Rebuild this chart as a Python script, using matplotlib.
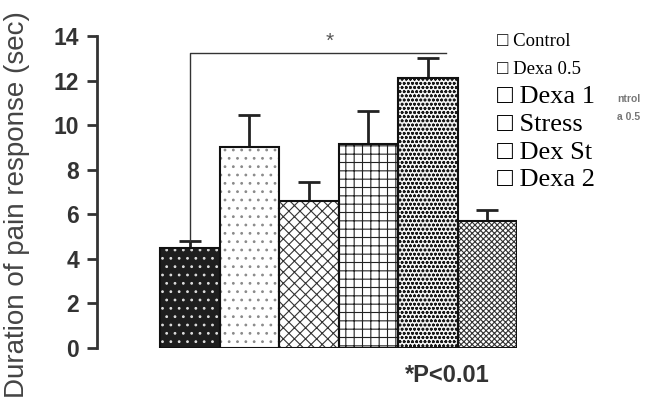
import matplotlib.pyplot as plt
import numpy as np

groups = ["Control", "Dexa 0.5", "Dexa 1", "Stress", "Dex St", "Dexa 2"]
means = [4.5, 9.0, 6.6, 9.15, 12.1, 5.7]
upper_err = [0.3, 1.45, 0.85, 1.5, 0.9, 0.5]
yticks = [0, 2, 4, 6, 8, 10, 12, 14]
legend_sizes = [13.5, 13.5, 19, 19, 19, 19]

hatches = ["..", "..", "xxx", "++", "oooo", "xxxxxx"]
faces = ["#1e1e1e", "white", "white", "white", "#f4f4f4", "white"]
hatch_colors = ["#dddddd", "#8a8a8a", "#333333", "#222222", "#1a1a1a", "#333333"]

plt.rcParams["hatch.linewidth"] = 0.8
fig = plt.figure(figsize=(6.55, 4.05), dpi=100)
ax = fig.add_axes([97 / 655, 57 / 405, 420 / 655, 312 / 405])

x = np.arange(len(groups))
for i in range(len(groups)):
    ax.bar(x[i], means[i], width=1.0, color=faces[i], hatch=hatches[i],
           edgecolor=hatch_colors[i], linewidth=0, zorder=2)
    ax.bar(x[i], means[i], width=1.0, fill=False, edgecolor="#111111",
           linewidth=1.5, zorder=3)

ax.errorbar(x, means, yerr=[np.zeros(len(means)), upper_err], fmt="none",
            ecolor="#222222", elinewidth=2, capsize=8, capthick=2, zorder=1)

# significance bracket from control to the Dex St group
top = 13.25
ax.plot([x[0], x[0], x[4] + 0.3], [means[0] + upper_err[0], top, top],
        color="#333333", lw=1, zorder=1)
ax.text((x[0] + x[4]) / 2 + 0.35, top + 0.1, "*", fontsize=15, color="#555555",
        ha="center", va="bottom", family="Liberation Sans")

ax.set_xlim(-1.56, 5.5)
ax.set_ylim(0, 14)
ax.set_yticks(yticks)
ax.set_yticklabels([str(t) for t in yticks], fontsize=16.5, fontweight="bold",
                   color="#333333", family="Liberation Sans")
ax.tick_params(axis="y", length=7, width=2, color="#333333", pad=6)
ax.set_xticks([])
for side in ["top", "right", "bottom"]:
    ax.spines[side].set_visible(False)
ax.spines["left"].set_linewidth(2)
ax.spines["left"].set_color("#333333")

fig.text(17 / 655, 1 - 205 / 405, "Duration of pain response (sec)", rotation=90,
         ha="center", va="center", fontsize=20, color="#444444",
         family="Liberation Sans")

legend_y = [42, 70, 97, 125, 153, 180]
for name, y, fs in zip(groups, legend_y, legend_sizes):
    fig.text(497 / 655, 1 - y / 405, "\u25a1 " + name, fontsize=fs,
             family=["Liberation Serif", "DejaVu Sans"], va="center", ha="left",
             color="black")

# leftover legend fragments from the original scan
fig.text(617 / 655, 1 - 99 / 405, "ntrol", fontsize=7.5, fontweight="bold",
         color="#777777", family="Liberation Sans", va="center")
fig.text(617 / 655, 1 - 117 / 405, "a 0.5", fontsize=7.5, fontweight="bold",
         color="#777777", family="Liberation Sans", va="center")

fig.text(447 / 655, 1 - 376 / 405, "*P<0.01", fontsize=17, fontweight="bold",
         color="#333333", family="Liberation Sans", ha="center", va="center")

fig.savefig("out.png", dpi=100)
